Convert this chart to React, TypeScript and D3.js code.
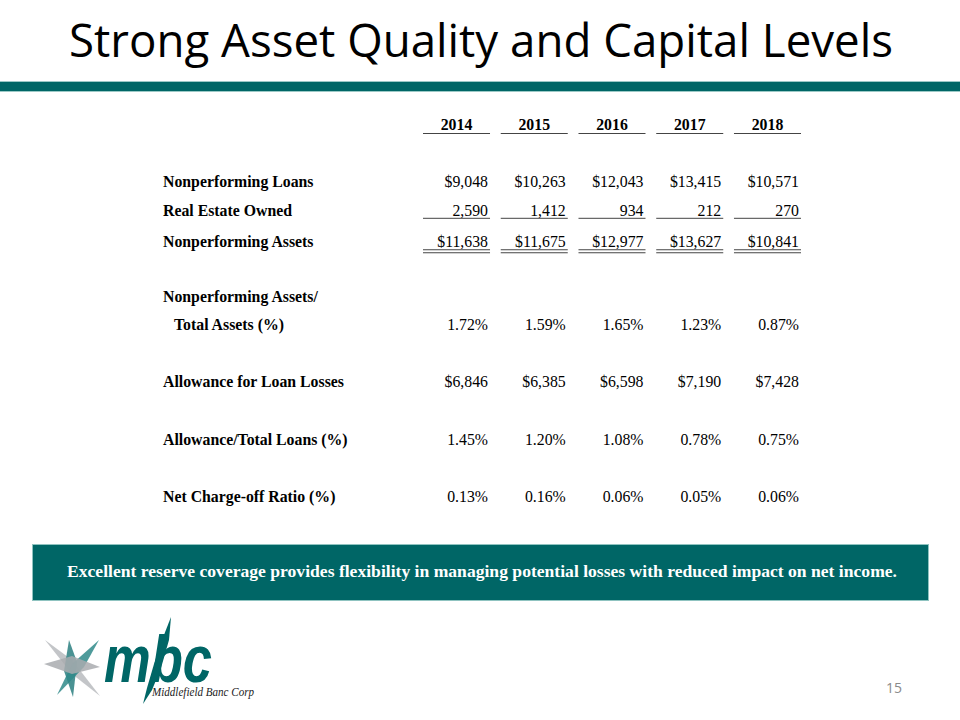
import { useEffect, useRef } from 'react';
import * as d3 from 'd3';

const years = ['2014', '2015', '2016', '2017', '2018'];

const nonperformingLoans = [9048, 10263, 12043, 13415, 10571];
const realEstateOwned = [2590, 1412, 934, 212, 270];
const nonperformingAssets = [11638, 11675, 12977, 13627, 10841];
const npaToAssets = [1.72, 1.59, 1.65, 1.23, 0.87];
const allowance = [6846, 6385, 6598, 7190, 7428];
const allowanceToLoans = [1.45, 1.2, 1.08, 0.78, 0.75];
const chargeOffRatio = [0.13, 0.16, 0.06, 0.05, 0.06];

const rowLabels = [
  'Nonperforming Loans',
  'Real Estate Owned',
  'Nonperforming Assets',
  'Nonperforming Assets/',
  'Total Assets (%)',
  'Allowance for Loan Losses',
  'Allowance/Total Loans (%)',
  'Net Charge-off Ratio (%)',
];

const title = 'Strong Asset Quality and Capital Levels';
const note = 'Excellent reserve coverage provides flexibility in managing potential losses with reduced impact on net income.';

const TEAL = '#006666';

function App() {
  const svgRef = useRef(null);

  useEffect(() => {
    document.body.style.margin = '0';
    if (!svgRef.current) return;
    const svg = d3.select(svgRef.current);
    svg.selectAll('*').remove();

    const width = 960;
    const height = 720;

    svg.append('rect').attr('width', width).attr('height', height).attr('fill', '#fff');

    // title + bar
    svg.append('text')
      .attr('x', 69)
      .attr('y', 57)
      .attr('font-family', "'Open Sans', sans-serif")
      .attr('font-size', 45)
      .attr('textLength', 824)
      .attr('lengthAdjust', 'spacingAndGlyphs')
      .attr('fill', '#000')
      .text(title);

    svg.append('rect').attr('x', 0).attr('y', 81).attr('width', width).attr('height', 11).attr('fill', '#9cc9c6');
    svg.append('rect').attr('x', 0).attr('y', 82).attr('width', width).attr('height', 9).attr('fill', TEAL);

    // table
    const x = d3.scaleBand().domain(years).range([423, 801]).paddingInner(0.138);
    const y = d3.scaleLinear().domain([0, 1]).range([130, 158.6]);

    const fmtDollar = d3.format('$,');
    const fmtNum = d3.format(',');
    const fmtPct = (v) => d3.format('.2f')(v) + '%';

    const rows = [
      { label: rowLabels[0], slot: 2, values: nonperformingLoans.map(fmtDollar) },
      { label: rowLabels[1], slot: 3, values: realEstateOwned.map(fmtNum), under: 1 },
      { label: rowLabels[2], slot: 4.1, values: nonperformingAssets.map(fmtDollar), under: 2 },
      { label: rowLabels[3], slot: 6, values: null },
      { label: rowLabels[4], slot: 7, values: npaToAssets.map(fmtPct), indent: true },
      { label: rowLabels[5], slot: 9, values: allowance.map(fmtDollar) },
      { label: rowLabels[6], slot: 11, values: allowanceToLoans.map(fmtPct) },
      { label: rowLabels[7], slot: 13, values: chargeOffRatio.map(fmtPct) },
    ];

    const table = svg.append('g')
      .attr('font-family', "'Liberation Serif', 'Times New Roman', serif")
      .attr('font-size', 15.8)
      .attr('fill', '#000');

    // header
    table.selectAll('text.year')
      .data(years)
      .join('text')
      .attr('class', 'year')
      .attr('x', d => x(d) + x.bandwidth() / 2)
      .attr('y', y(0))
      .attr('text-anchor', 'middle')
      .attr('font-weight', 'bold')
      .text(d => d);

    table.selectAll('line.year-rule')
      .data(years)
      .join('line')
      .attr('class', 'year-rule')
      .attr('x1', d => x(d))
      .attr('x2', d => x(d) + x.bandwidth())
      .attr('y1', y(0) + 3.5)
      .attr('y2', y(0) + 3.5)
      .attr('stroke', '#444')
      .attr('stroke-width', 1);

    rows.forEach(row => {
      const yy = y(row.slot);
      table.append('text')
        .attr('x', row.indent ? 174 : 163)
        .attr('y', yy)
        .attr('font-weight', 'bold')
        .text(row.label);

      if (!row.values) return;
      table.selectAll(null)
        .data(row.values)
        .join('text')
        .attr('x', (d, i) => x(years[i]) + x.bandwidth() - 2)
        .attr('y', yy)
        .attr('text-anchor', 'end')
        .text(d => d);

      const offsets = row.under === 1 ? [2.5] : row.under === 2 ? [2.5, 5.5] : [];
      offsets.forEach(off => {
        table.selectAll(null)
          .data(years)
          .join('line')
          .attr('x1', d => x(d))
          .attr('x2', d => x(d) + x.bandwidth())
          .attr('y1', yy + off)
          .attr('y2', yy + off)
          .attr('stroke', '#444')
          .attr('stroke-width', 1);
      });
    });

    // banner
    svg.append('rect')
      .attr('x', 32.5).attr('y', 544.5).attr('width', 896).attr('height', 56)
      .attr('fill', TEAL).attr('stroke', '#8fc3c0').attr('stroke-width', 1);
    svg.append('text')
      .attr('x', 67)
      .attr('y', 577)
      .attr('font-family', "'Liberation Serif', 'Times New Roman', serif")
      .attr('font-weight', 'bold')
      .attr('font-size', 17)
      .attr('textLength', 830)
      .attr('lengthAdjust', 'spacingAndGlyphs')
      .attr('fill', '#fff')
      .text(note);

    // logo
    const logo = svg.append('g');
    const star = [
      { pts: [[45, 640], [72, 660], [100, 696], [72, 674]], fill: '#b9bbbe' },
      { pts: [[69, 640], [77, 662], [73, 697], [64, 671]], fill: '#2a7f80' },
      { pts: [[99, 640], [84, 667], [57, 695], [72, 664]], fill: '#2f8a8a' },
      { pts: [[44, 664], [72, 656], [100, 667], [72, 674]], fill: '#a9acaf' },
    ];
    logo.selectAll('polygon.star')
      .data(star)
      .join('polygon')
      .attr('class', 'star')
      .attr('points', d => d.pts.map(p => p.join(',')).join(' '))
      .attr('fill', d => d.fill)
      .attr('fill-opacity', 0.85);

    logo.append('text')
      .attr('x', 104)
      .attr('y', 682)
      .attr('font-family', "'Liberation Sans', Arial, sans-serif")
      .attr('font-weight', 'bold')
      .attr('font-style', 'italic')
      .attr('font-size', 66)
      .attr('textLength', 108)
      .attr('lengthAdjust', 'spacingAndGlyphs')
      .attr('fill', TEAL)
      .text('mbc');

    // the long spike through the b stem
    logo.append('polygon')
      .attr('points', '171,617 169,640 161,668 152,690 143,704 147,688 154,664 162,640')
      .attr('fill', TEAL);

    logo.append('text')
      .attr('x', 152)
      .attr('y', 696)
      .attr('font-family', "'Liberation Serif', 'Times New Roman', serif")
      .attr('font-style', 'italic')
      .attr('font-size', 13)
      .attr('textLength', 102)
      .attr('lengthAdjust', 'spacingAndGlyphs')
      .attr('fill', '#222')
      .text('Middlefield Banc Corp');

    // page number
    svg.append('text')
      .attr('x', 902)
      .attr('y', 693)
      .attr('text-anchor', 'end')
      .attr('font-family', "'Open Sans', sans-serif")
      .attr('font-size', 14)
      .attr('fill', '#8a8a8a')
      .text('15');
  }, []);

  return <svg ref={svgRef} width={960} height={720} style={{ display: 'block' }}></svg>;
}

export default App;
